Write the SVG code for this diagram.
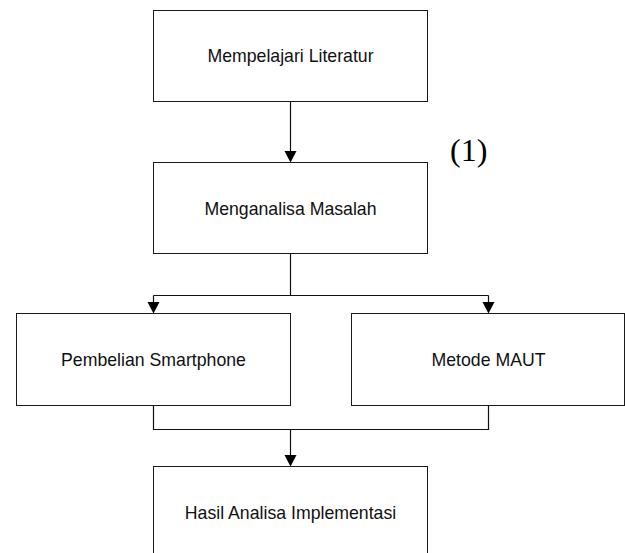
<svg xmlns="http://www.w3.org/2000/svg" width="625" height="553" viewBox="0 0 625 553">
<style>
.box{fill:#fff;stroke:#1a1a1a;stroke-width:1}
.lbl{font-family:"Liberation Sans",Arial,sans-serif;font-size:17.7px;fill:#111;text-anchor:middle}
.ln{fill:none;stroke:#111;stroke-width:1.2}
.ah{fill:#000}
.num{font-family:"Liberation Serif","Times New Roman",serif;font-size:32px;fill:#000}
</style>
<rect width="625" height="553" fill="#fff"/>
<g id="connectors">
<path class="ln" d="M290.5 101.5V152"/>
<polygon class="ah" points="284.5,151 296.5,151 290.5,162.5"/>
<path class="ln" d="M290.5 253.5V295.5M153.5 295.5H488.5M153.5 295.5V303M488.5 295.5V303"/>
<polygon class="ah" points="147.5,302 159.5,302 153.5,313.5"/>
<polygon class="ah" points="482.5,302 494.5,302 488.5,313.5"/>
<path class="ln" d="M153.5 405.5V429.5H488.5V405.5M290.5 429.5V456"/>
<polygon class="ah" points="284.5,455 296.5,455 290.5,466.5"/>
</g>
<g id="n1"><rect class="box" x="153.5" y="10.5" width="274" height="91"/><text class="lbl" x="290.5" y="62.3">Mempelajari Literatur</text></g>
<g id="n2"><rect class="box" x="153.5" y="162.5" width="274" height="91"/><text class="lbl" x="290.5" y="214.5">Menganalisa Masalah</text></g>
<g id="n3"><rect class="box" x="16.5" y="313.5" width="274" height="92"/><text class="lbl" x="153.5" y="366">Pembelian Smartphone</text></g>
<g id="n4"><rect class="box" x="351.5" y="313.5" width="273" height="92"/><text class="lbl" x="488.5" y="366">Metode MAUT</text></g>
<g id="n5"><rect class="box" x="153.5" y="466.5" width="274" height="91"/><text class="lbl" x="290.5" y="519">Hasil Analisa Implementasi</text></g>
<text class="num" x="450" y="161">(1)</text>
</svg>
